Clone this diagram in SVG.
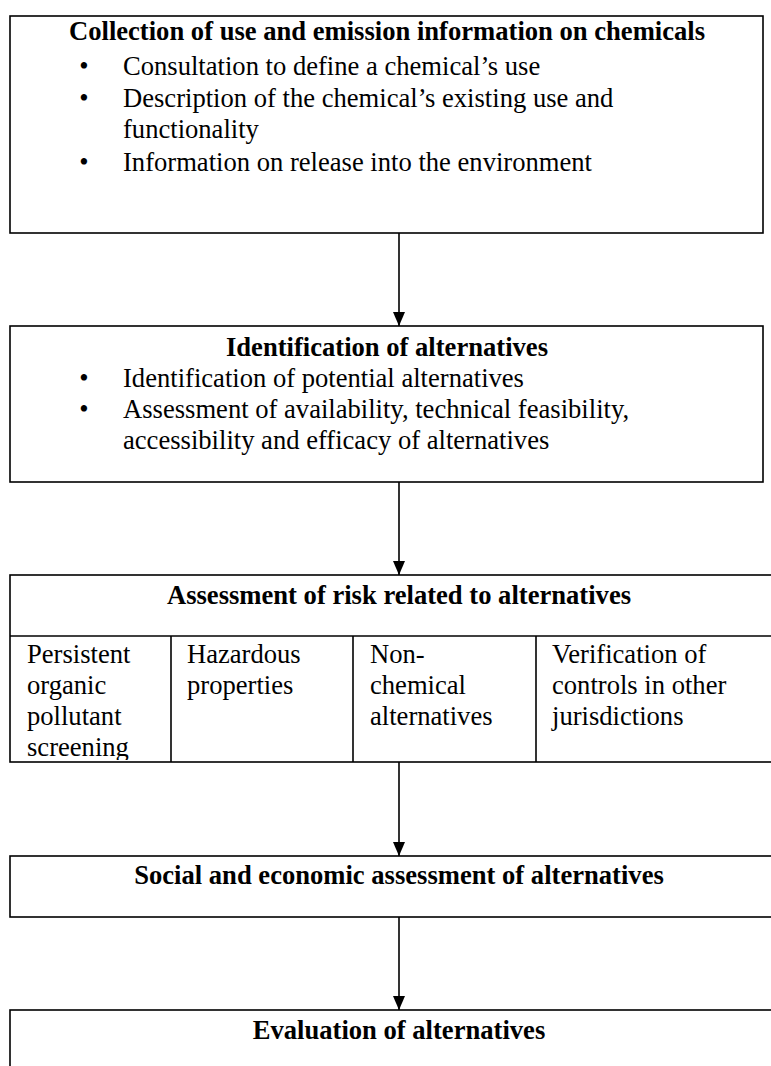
<svg xmlns="http://www.w3.org/2000/svg" width="771" height="1066" viewBox="0 0 771 1066">
<style>
.box{fill:#fff;stroke:#000;stroke-width:1.6}
.ln{stroke:#000;stroke-width:1.6;fill:none}
text{font-family:"Liberation Serif","Times New Roman",serif;font-size:26.6px;fill:#000}
.t{font-weight:bold;text-anchor:middle}
.b{text-anchor:middle}
</style>
<defs>
<marker id="ah" markerWidth="14" markerHeight="12" refX="14" refY="6" orient="auto" markerUnits="userSpaceOnUse" viewBox="0 0 14 12">
<path d="M0,0 L14,6 L0,12 Z" fill="#000"/>
</marker>
<clipPath id="c1"><rect x="10" y="637" width="161" height="123"/></clipPath>
</defs>
<rect width="771" height="1066" fill="#fff"/>
<g id="connectors">
<line class="ln" x1="399" y1="233" x2="399" y2="326" marker-end="url(#ah)"/>
<line class="ln" x1="399" y1="482" x2="399" y2="575" marker-end="url(#ah)"/>
<line class="ln" x1="399" y1="762" x2="399" y2="856" marker-end="url(#ah)"/>
<line class="ln" x1="399" y1="917" x2="399" y2="1010" marker-end="url(#ah)"/>
</g>
<g id="n1">
<rect class="box" x="10" y="16" width="753" height="217"/>
<text class="t" x="387" y="40">Collection of use and emission information on chemicals</text>
<text class="b" x="84" y="75">•</text><text x="123" y="75">Consultation to define a chemical’s use</text>
<text class="b" x="84" y="107">•</text><text x="123" y="107">Description of the chemical’s existing use and</text>
<text x="123" y="138">functionality</text>
<text class="b" x="84" y="171">•</text><text x="123" y="171">Information on release into the environment</text>
</g>
<g id="n2">
<rect class="box" x="10" y="326" width="753" height="156"/>
<text class="t" x="387" y="356">Identification of alternatives</text>
<text class="b" x="84" y="387">•</text><text x="123" y="387">Identification of potential alternatives</text>
<text class="b" x="84" y="418">•</text><text x="123" y="418">Assessment of availability, technical feasibility,</text>
<text x="123" y="449">accessibility and efficacy of alternatives</text>
</g>
<g id="n3">
<rect class="box" x="10" y="575" width="780" height="187"/>
<line class="ln" x1="10" y1="636" x2="790" y2="636"/>
<line class="ln" x1="171" y1="636" x2="171" y2="762"/>
<line class="ln" x1="353" y1="636" x2="353" y2="762"/>
<line class="ln" x1="536" y1="636" x2="536" y2="762"/>
<text class="t" x="399" y="604">Assessment of risk related to alternatives</text>
<g clip-path="url(#c1)">
<text x="27" y="663">Persistent</text>
<text x="27" y="694">organic</text>
<text x="27" y="725">pollutant</text>
<text x="27" y="756">screening</text>
</g>
<text x="187" y="663">Hazardous</text>
<text x="187" y="694">properties</text>
<text x="370" y="663">Non-</text>
<text x="370" y="694">chemical</text>
<text x="370" y="725">alternatives</text>
<text x="552" y="663">Verification of</text>
<text x="552" y="694">controls in other</text>
<text x="552" y="725">jurisdictions</text>
</g>
<g id="n4">
<rect class="box" x="10" y="856" width="780" height="61"/>
<text class="t" x="399" y="884">Social and economic assessment of alternatives</text>
</g>
<g id="n5">
<rect class="box" x="10" y="1010" width="780" height="80"/>
<text class="t" x="399" y="1039">Evaluation of alternatives</text>
</g>
</svg>
